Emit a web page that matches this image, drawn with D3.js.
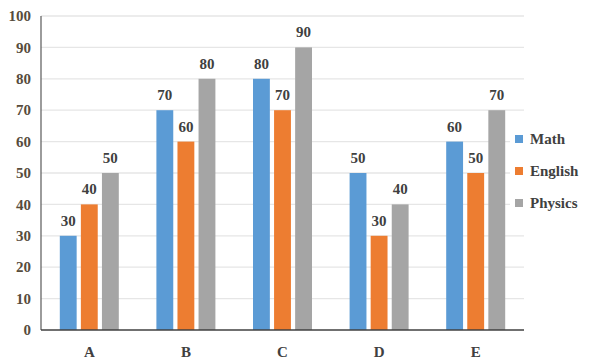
<!DOCTYPE html>
<html>
<head>
<meta charset="utf-8">
<script src="https://cdn.jsdelivr.net/npm/d3@7"></script>
<style>
  body { margin: 0; background: #fff; }
</style>
</head>
<body>
<svg id="chart" width="595" height="362" font-family="'Liberation Serif', 'Times New Roman', 'DejaVu Serif', serif" font-weight="bold"></svg>
<script>
var categories = ["A", "B", "C", "D", "E"];
var seriesNames = ["Math", "English", "Physics"];
var math = [30, 70, 80, 50, 60];
var english = [40, 60, 70, 30, 50];
var physics = [50, 80, 90, 40, 70];
var yTicks = [0, 10, 20, 30, 40, 50, 60, 70, 80, 90, 100];
var colors = ["#5b9bd5", "#ed7d31", "#a5a5a5"];

var seriesValues = [math, english, physics];

var margin = {left: 41, right: 71, top: 16, bottom: 32};
var width = 595 - margin.left - margin.right;
var height = 362 - margin.top - margin.bottom;

var svg = d3.select("#chart");
var g = svg.append("g")
  .attr("transform", "translate(" + margin.left + "," + margin.top + ")");

var x = d3.scaleBand().domain(categories).range([0, width]).padding(0);
var x1 = d3.scaleBand().domain(seriesNames).range([0, 59]).paddingInner(0.2);
var y = d3.scaleLinear().domain([0, 100]).range([height, 0]);

// gridlines
g.append("g").selectAll("line")
  .data(yTicks.slice(1))
  .enter().append("line")
    .attr("x1", 0).attr("x2", width)
    .attr("y1", function(d){ return y(d); })
    .attr("y2", function(d){ return y(d); })
    .attr("stroke", "#e6e6e6")
    .attr("stroke-width", 1.3);

// tick labels
g.append("g").selectAll("text")
  .data(yTicks)
  .enter().append("text")
    .attr("x", -10)
    .attr("y", function(d){ return y(d); })
    .attr("dy", "0.35em")
    .attr("text-anchor", "end")
    .attr("font-size", 15)
    .attr("fill", "#574c3c")
    .text(function(d){ return d; });

// bars
var groups = g.append("g").selectAll("g")
  .data(categories)
  .enter().append("g")
    .attr("transform", function(d){ return "translate(" + (x(d) + x.bandwidth() / 2 - 29.5) + ",0)"; });

groups.each(function(cat, ci){
  var grp = d3.select(this);
  seriesNames.forEach(function(s, si){
    var v = seriesValues[si][ci];
    grp.append("rect")
      .attr("x", x1(s))
      .attr("width", x1.bandwidth())
      .attr("y", y(v))
      .attr("height", height - y(v))
      .attr("fill", colors[si]);
    grp.append("text")
      .attr("x", x1(s) + x1.bandwidth() / 2)
      .attr("y", y(v) - 10)
      .attr("text-anchor", "middle")
      .attr("font-size", 15)
      .attr("fill", "#404040")
      .text(v);
  });
});

// axes lines
g.append("line")
  .attr("x1", 0).attr("x2", 0)
  .attr("y1", 0).attr("y2", height)
  .attr("stroke", "#595959").attr("stroke-width", 1.2);
g.append("line")
  .attr("x1", 0).attr("x2", width)
  .attr("y1", height).attr("y2", height)
  .attr("stroke", "#404040").attr("stroke-width", 1.6);

// category labels
g.append("g").selectAll("text")
  .data(categories)
  .enter().append("text")
    .attr("x", function(d){ return x(d) + x.bandwidth() / 2; })
    .attr("y", height + 27)
    .attr("text-anchor", "middle")
    .attr("font-size", 15)
    .attr("fill", "#404040")
    .text(function(d){ return d; });

// legend
var legend = svg.append("g").attr("transform", "translate(510,124)");
legend.append("rect")
  .attr("x", 0).attr("y", 0).attr("width", 85).attr("height", 92)
  .attr("fill", "#fff");
seriesNames.forEach(function(s, i){
  var row = legend.append("g").attr("transform", "translate(5," + (15 + i * 32) + ")");
  row.append("rect")
    .attr("x", 0).attr("y", -4).attr("width", 8).attr("height", 8)
    .attr("fill", colors[i]);
  row.append("text")
    .attr("x", 15).attr("y", 0).attr("dy", "0.35em")
    .attr("font-size", 15)
    .attr("fill", "#404040")
    .text(s);
});
</script>
</body>
</html>
